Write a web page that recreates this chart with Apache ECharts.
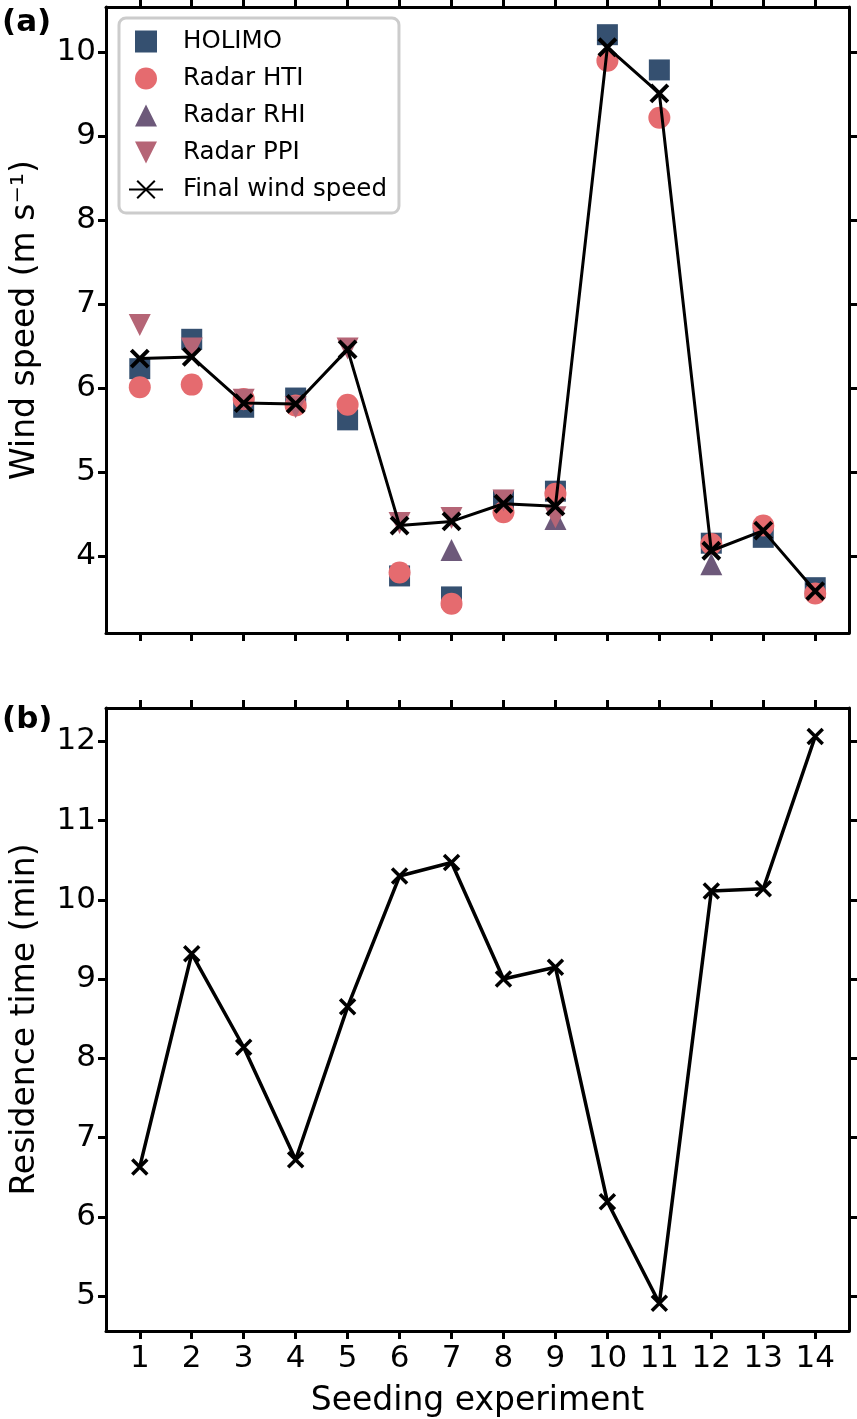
<!DOCTYPE html>
<html>
<head>
<meta charset="utf-8">
<script src="https://cdn.jsdelivr.net/npm/echarts@6/dist/echarts.min.js"></script>
<style>html,body{margin:0;padding:0;background:#fff}#c{width:857px;height:1419px}</style>
</head>
<body>
<div id="c"></div>
<script>
var experiments = [1,2,3,4,5,6,7,8,9,10,11,12,13,14];
var holimo   = [6.23,6.58,5.77,5.88,5.62,3.76,3.51,4.66,4.77,10.21,9.79,4.15,4.22,3.62];
var radarHTI = [6.01,6.04,5.87,5.79,5.80,3.80,3.43,4.52,4.74,9.90,9.22,4.14,4.36,3.55];
var radarRHI = [null,null,null,null,null,null,4.07,null,4.44,null,null,3.90,null,null];
var radarPPI = [6.75,6.47,5.86,5.77,6.47,4.39,4.45,4.66,4.46,null,null,null,null,null];
var finalWind = [6.35,6.37,5.82,5.81,6.46,4.36,4.41,4.62,4.59,10.06,9.51,4.06,4.30,3.58];
var residence = [6.63,9.32,8.14,6.72,8.65,10.30,10.47,9.00,9.15,6.19,4.91,10.11,10.14,12.06];
var windTicks = [4,5,6,7,8,9,10];
var resTicks = [5,6,7,8,9,10,11,12];

var FONT = 'DejaVu Sans';
function pairs(ys){ return experiments.map(function(x,i){ return ys[i]==null ? null : [x, ys[i]]; }).filter(function(p){return p;}); }

var SQ = 'path://M0,0H10V10H0Z';
var TUP = 'path://M5,0L10,10L0,10Z';
var TDN = 'path://M0,0L10,0L5,10Z';
var XS = 'path://M0,0L10,10M10,0L0,10';

function xAx(grid, pos, labels, name){
  return {
    type:'value', gridIndex:grid, position:pos, min:0.35, max:14.65,
    axisLine:{show:true, onZero:false, lineStyle:{color:'#000', width:3}},
    axisTick:{show:true, inside:false, length:8, lineStyle:{color:'#000', width:3}, customValues:experiments},
    axisLabel:{show:labels, customValues:experiments, margin:12, color:'#000', fontSize:31, fontFamily:FONT},
    splitLine:{show:false},
    name:name||'', nameLocation:'middle', nameGap:54,
    nameTextStyle:{color:'#000', fontSize:33, fontFamily:FONT}
  };
}
function yAx(grid, pos, labels, mn, mx, ticks, name){
  return {
    type:'value', gridIndex:grid, position:pos, min:mn, max:mx,
    axisLine:{show:true, onZero:false, lineStyle:{color:'#000', width:3}},
    axisTick:{show:true, inside:false, length:8, lineStyle:{color:'#000', width:3}, customValues:ticks},
    axisLabel:{show:labels, customValues:ticks, margin:10, color:'#000', fontSize:31, fontFamily:FONT},
    splitLine:{show:false},
    name:name||'', nameLocation:'middle', nameGap:64,
    nameTextStyle:{color:'#000', fontSize:33, fontFamily:FONT}
  };
}

var option = {
  animation:false,
  backgroundColor:'#fff',
  title:[
    {text:'(a)', left:-3, top:2, textStyle:{fontSize:31, fontWeight:'bold', color:'#000', fontFamily:FONT}},
    {text:'(b)', left:-3, top:699, textStyle:{fontSize:31, fontWeight:'bold', color:'#000', fontFamily:FONT}}
  ],
  grid:[
    {left:106, top:7, width:743, height:626},
    {left:106, top:708, width:743, height:625}
  ],
  xAxis:[
    xAx(0,'bottom',false),
    xAx(0,'top',false),
    xAx(1,'bottom',true,'Seeding experiment'),
    xAx(1,'top',false)
  ],
  yAxis:[
    yAx(0,'left',true,3.08,10.54,windTicks,'Wind speed (m s\u207B\u00B9)'),
    yAx(0,'right',false,3.08,10.54,windTicks),
    yAx(1,'left',true,4.56,12.42,resTicks,'Residence time (min)'),
    yAx(1,'right',false,4.56,12.42,resTicks)
  ],
  legend:{
    left:119, top:18, orient:'vertical',
    backgroundColor:'rgba(255,255,255,0.85)', borderColor:'#cccccc', borderWidth:3, borderRadius:7,
    padding:[11,12,11,9], itemGap:12, itemWidth:34, itemHeight:22,
    textStyle:{fontSize:24.5, color:'#000', fontFamily:FONT, padding:[0,0,0,15]},
    data:['HOLIMO','Radar HTI','Radar RHI','Radar PPI','Final wind speed']
  },
  series:[
    {name:'HOLIMO', type:'scatter', xAxisIndex:0, yAxisIndex:0, symbol:SQ, symbolSize:21,
     itemStyle:{color:'#355070', opacity:1}, data:pairs(holimo), z:2},
    {name:'Radar HTI', type:'scatter', xAxisIndex:0, yAxisIndex:0, symbol:'circle', symbolSize:22,
     itemStyle:{color:'#e56b6f', opacity:1}, data:pairs(radarHTI), z:3},
    {name:'Radar RHI', type:'scatter', xAxisIndex:0, yAxisIndex:0, symbol:TUP, symbolSize:22,
     itemStyle:{color:'#6d597a', opacity:1}, data:pairs(radarRHI), z:4},
    {name:'Radar PPI', type:'scatter', xAxisIndex:0, yAxisIndex:0, symbol:TDN, symbolSize:22,
     itemStyle:{color:'#b56576', opacity:1}, data:pairs(radarPPI), z:5},
    {name:'Final wind speed', type:'line', xAxisIndex:0, yAxisIndex:0, symbol:XS, symbolSize:17, showAllSymbol:true,
     lineStyle:{color:'#000', width:3}, itemStyle:{color:'#000', borderColor:'#000', borderWidth:4},
     data:pairs(finalWind), z:6},
    {name:'Residence', type:'line', xAxisIndex:2, yAxisIndex:2, symbol:XS, symbolSize:15, showAllSymbol:true,
     lineStyle:{color:'#000', width:3.5}, itemStyle:{color:'#000', borderColor:'#000', borderWidth:3.5},
     data:pairs(residence), z:6}
  ]
};
var chart = echarts.init(document.getElementById('c'), null, {renderer:'canvas'});
chart.setOption(option);
</script>
</body>
</html>
